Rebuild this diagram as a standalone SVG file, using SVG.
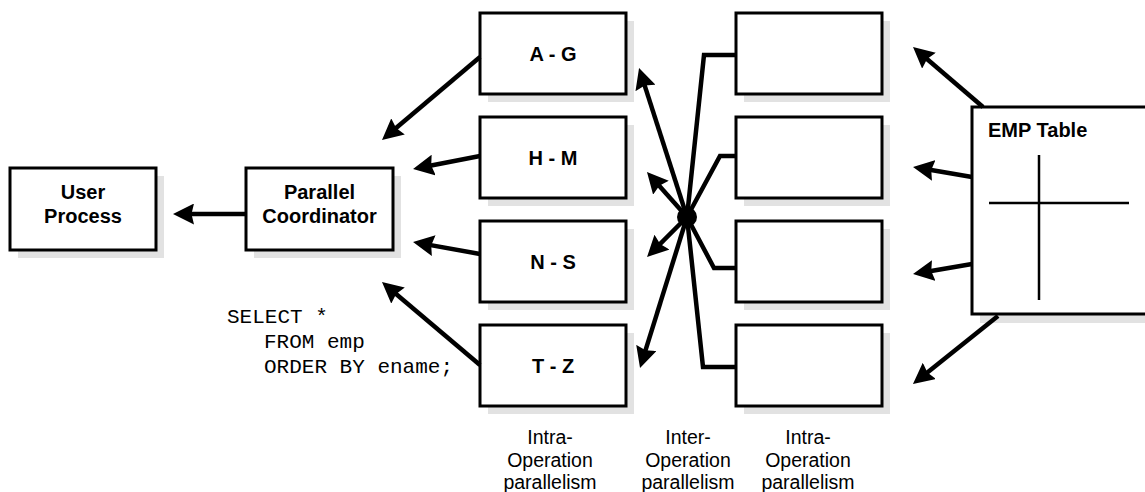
<svg xmlns="http://www.w3.org/2000/svg" width="1145" height="492" viewBox="0 0 1145 492">
<defs>
<style>
.box{fill:#fff;stroke:#000;stroke-width:3}
.sh{fill:#e2e2e2}
.lbl{font-family:"Liberation Sans",Arial,sans-serif;font-weight:bold;font-size:20px;text-anchor:middle;fill:#000}
.cap{font-family:"Liberation Sans",Arial,sans-serif;font-size:19.5px;text-anchor:middle;fill:#000}
.code{font-family:"Liberation Mono","Courier New",monospace;font-size:21px;fill:#000}
.ln{fill:none;stroke:#000;stroke-width:4.5}
.ar{fill:none;stroke:#000;stroke-width:4.5;marker-end:url(#ah)}
</style>
<marker id="ah" markerUnits="userSpaceOnUse" viewBox="0 0 21 21" markerWidth="21" markerHeight="21" refX="13" refY="10.5" orient="auto">
<path d="M0,0 L21,10.5 L0,21 L2.5,10.5 z" fill="#000"/>
</marker>
</defs>
<rect width="1145" height="492" fill="#fff"/>

<g id="user-process">
<rect class="sh" x="18" y="176" width="146" height="82"/>
<rect class="box" x="10" y="168" width="146" height="82"/>
<text class="lbl" x="83" y="199">User</text>
<text class="lbl" x="83" y="223">Process</text>
</g>
<g id="parallel-coordinator">
<rect class="sh" x="254" y="176" width="147" height="82"/>
<rect class="box" x="246" y="168" width="147" height="82"/>
<text class="lbl" x="319.5" y="199">Parallel</text>
<text class="lbl" x="319.5" y="223">Coordinator</text>
</g>

<g id="ag">
<rect class="sh" x="488" y="21" width="146" height="81"/>
<rect class="box" x="480" y="13" width="146" height="81"/>
<text class="lbl" x="553" y="60.5">A - G</text>
</g>
<g id="hm">
<rect class="sh" x="488" y="125" width="146" height="81"/>
<rect class="box" x="480" y="117" width="146" height="81"/>
<text class="lbl" x="553" y="164.5">H - M</text>
</g>
<g id="ns">
<rect class="sh" x="488" y="229" width="146" height="81"/>
<rect class="box" x="480" y="221" width="146" height="81"/>
<text class="lbl" x="553" y="268.5">N - S</text>
</g>
<g id="tz">
<rect class="sh" x="488" y="333" width="146" height="81"/>
<rect class="box" x="480" y="325" width="146" height="81"/>
<text class="lbl" x="553" y="372.5">T - Z</text>
</g>

<g id="r1">
<rect class="sh" x="744" y="21" width="146" height="81"/>
<rect class="box" x="736" y="13" width="146" height="81"/>
</g>
<g id="r2">
<rect class="sh" x="744" y="125" width="146" height="81"/>
<rect class="box" x="736" y="117" width="146" height="81"/>
</g>
<g id="r3">
<rect class="sh" x="744" y="229" width="146" height="81"/>
<rect class="box" x="736" y="221" width="146" height="81"/>
</g>
<g id="r4">
<rect class="sh" x="744" y="333" width="146" height="81"/>
<rect class="box" x="736" y="325" width="146" height="81"/>
</g>

<g id="emp-table">
<rect class="sh" x="980" y="115" width="200" height="208"/>
<rect class="box" x="972" y="107" width="200" height="207"/>
<text class="lbl" x="988" y="137" style="text-anchor:start">EMP Table</text>
<line x1="1039" y1="155" x2="1039" y2="300" stroke="#000" stroke-width="2.5"/>
<line x1="989" y1="203" x2="1129" y2="203" stroke="#000" stroke-width="2.5"/>
</g>

<g id="query">
<text class="code" x="227" y="323">SELECT *</text>
<text class="code" x="264" y="348">FROM emp</text>
<text class="code" x="264" y="373">ORDER BY ename;</text>
</g>

<g id="captions">
<text class="cap" x="550" y="444">Intra-</text>
<text class="cap" x="550" y="467">Operation</text>
<text class="cap" x="550" y="489">parallelism</text>
<text class="cap" x="688" y="444">Inter-</text>
<text class="cap" x="688" y="467">Operation</text>
<text class="cap" x="688" y="489">parallelism</text>
<text class="cap" x="808" y="444">Intra-</text>
<text class="cap" x="808" y="467">Operation</text>
<text class="cap" x="808" y="489">parallelism</text>
</g>

<g id="connectors">
<line class="ar" x1="246" y1="214" x2="181" y2="214"/>
<line class="ar" x1="480" y1="57" x2="388.1" y2="134.8"/>
<line class="ar" x1="480" y1="156" x2="420.9" y2="167.5"/>
<line class="ar" x1="480" y1="254" x2="420.9" y2="243.4"/>
<line class="ar" x1="480" y1="365" x2="388.1" y2="287.2"/>
<line class="ar" x1="687" y1="217" x2="641.5" y2="75.6"/>
<line class="ar" x1="687" y1="217" x2="652.3" y2="178"/>
<line class="ar" x1="687" y1="217" x2="652.7" y2="251.3"/>
<line class="ar" x1="687" y1="217" x2="642.4" y2="360.4"/>
<polyline class="ln" points="687,217 704,55 736,55"/>
<polyline class="ln" points="687,217 720,156 736,156"/>
<polyline class="ln" points="687,217 714,268 736,268"/>
<polyline class="ln" points="687,217 703,367 736,367"/>
<circle cx="687" cy="217" r="10" fill="#000"/>
<line class="ar" x1="983" y1="107" x2="919.1" y2="52.2"/>
<line class="ar" x1="972" y1="177" x2="920.9" y2="168.3"/>
<line class="ar" x1="972" y1="264" x2="920.9" y2="272.7"/>
<line class="ar" x1="998" y1="316" x2="919.2" y2="379"/>
</g>
</svg>
